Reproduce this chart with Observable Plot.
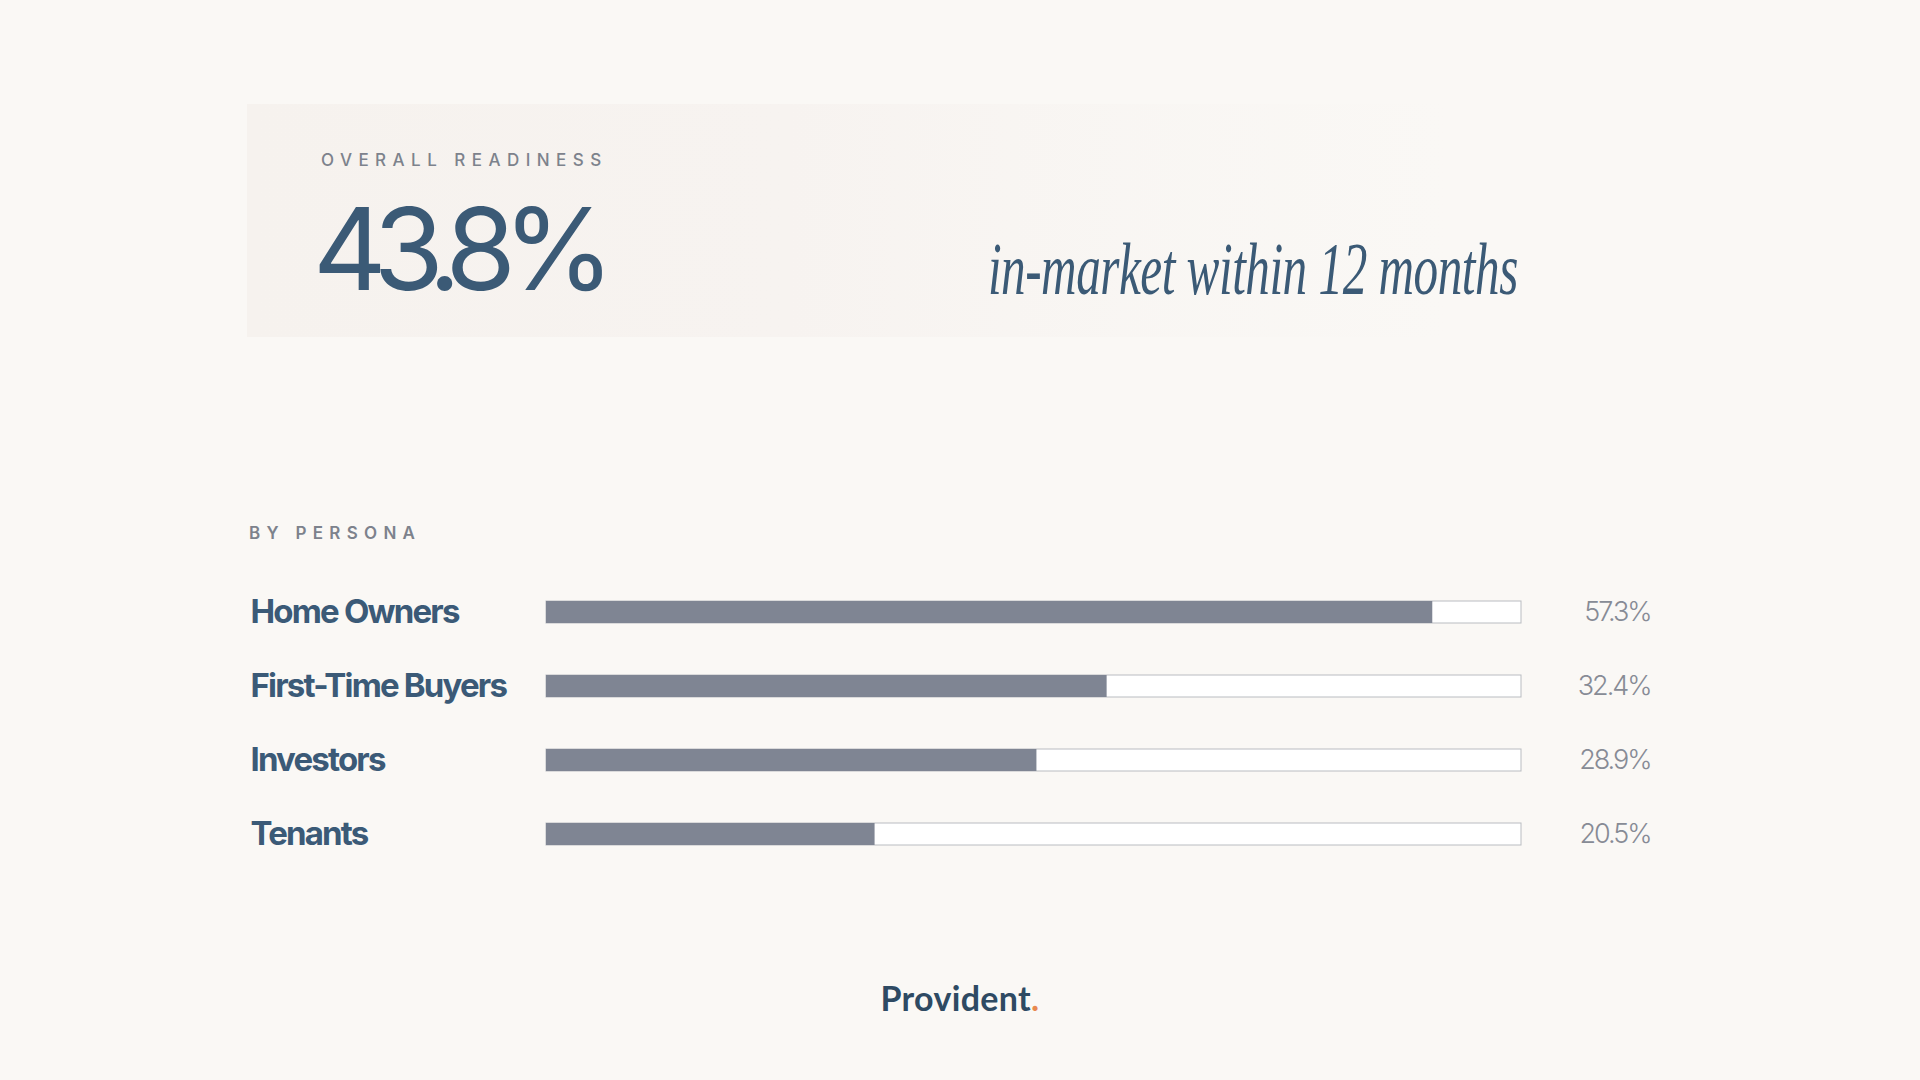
<!DOCTYPE html>
<html>
<head>
<meta charset="utf-8">
<script src="https://cdn.jsdelivr.net/npm/d3@7"></script>
<script src="https://cdn.jsdelivr.net/npm/@observablehq/plot@0.6"></script>
<style>
  html, body { margin: 0; padding: 0; }
  body { width: 1920px; height: 1080px; background: #faf8f5; position: relative; overflow: hidden; font-family: Inter, sans-serif; }
  .abs { position: absolute; line-height: 1; white-space: nowrap; }
  #panel { position: absolute; left: 247px; top: 104px; width: 1200px; height: 233px;
    background: linear-gradient(to right, #f6f2ee 0%, #f7f3f0 45%, rgba(248,245,242,0.6) 75%, rgba(250,248,245,0) 100%); }
  #kicker { left: 321px; top: 152px; font-size: 17px; font-weight: 500; letter-spacing: 0.38em; color: #7d828c; }
  #big { left: 313px; top: 192px; font-size: 114px; font-weight: 400; letter-spacing: -0.115em; color: #3b5a76; }
  #sub { right: 402px; top: 232px; font-family: "Liberation Serif", serif; font-style: italic; font-size: 74px; color: #3b5a76;
    transform: scaleX(0.665); transform-origin: right center; letter-spacing: -0.01em; }
  #persona { left: 249px; top: 525px; font-size: 17px; font-weight: 600; letter-spacing: 0.37em; color: #7d828c; }
  #chart { position: absolute; left: 0; top: 546px; }
  #brand { left: 0; width: 1920px; text-align: center; top: 981px; font-family: Lato, sans-serif; font-size: 34px; font-weight: 700; color: #2e4a63; letter-spacing: 0.01em; }
  #brand span { color: #e8894f; }
</style>
</head>
<body>
<div id="panel"></div>
<div id="kicker" class="abs">OVERALL READINESS</div>
<div id="big" class="abs"></div>
<div id="sub" class="abs"></div>
<div id="persona" class="abs">BY PERSONA</div>
<div id="chart"></div>
<div id="brand" class="abs">Provident<span>.</span></div>
<script>
// ---- data ----
const overallValue = 43.8;
const overallNote = "in-market within 12 months";
const personas = ["Home Owners", "First-Time Buyers", "Investors", "Tenants"];
const readiness = [57.3, 32.4, 28.9, 20.5];          // labelled values (%)
const barScore = [90.9, 57.5, 50.3, 33.7];           // bar fill as shown (score out of 100)
const scaleMax = 100;

document.getElementById("big").textContent = overallValue.toFixed(1) + "%";
document.getElementById("sub").textContent = overallNote;

const rows = personas.map((name, i) => ({name, value: readiness[i], score: barScore[i]}));

const chart = Plot.plot({
  width: 1920,
  height: 353,
  marginLeft: 546,
  marginRight: 399,
  marginTop: 0,
  marginBottom: 0,
  style: {background: "transparent", overflow: "visible"},
  x: {domain: [0, scaleMax], axis: null},
  y: {domain: personas, axis: null, padding: 0.70667},
  marks: [
    Plot.barX(rows, {x1: 0, x2: scaleMax, y: "name", fill: "#ffffff", stroke: "#b9bcc1", strokeWidth: 1}),
    Plot.barX(rows, {x1: 0, x2: "score", y: "name", fill: "#7f8593"}),
    Plot.text(rows, {y: "name", text: "name", frameAnchor: "left", dx: -296, textAnchor: "start",
      fontSize: 33, fontWeight: 700, fill: "#3b5a77", fontFamily: "Inter"}),
    Plot.text(rows, {y: "name", text: d => d.value.toFixed(1) + "%", frameAnchor: "right", dx: 129, textAnchor: "end",
      fontSize: 27, fontWeight: 300, fill: "#878b95", fontFamily: "Inter"})
  ]
});
const textGroups = chart.querySelectorAll('g[aria-label="text"]');
if (textGroups[0]) textGroups[0].style.letterSpacing = "-0.055em";
if (textGroups[1]) textGroups[1].style.letterSpacing = "-0.075em";
document.getElementById("chart").appendChild(chart);
</script>
</body>
</html>
